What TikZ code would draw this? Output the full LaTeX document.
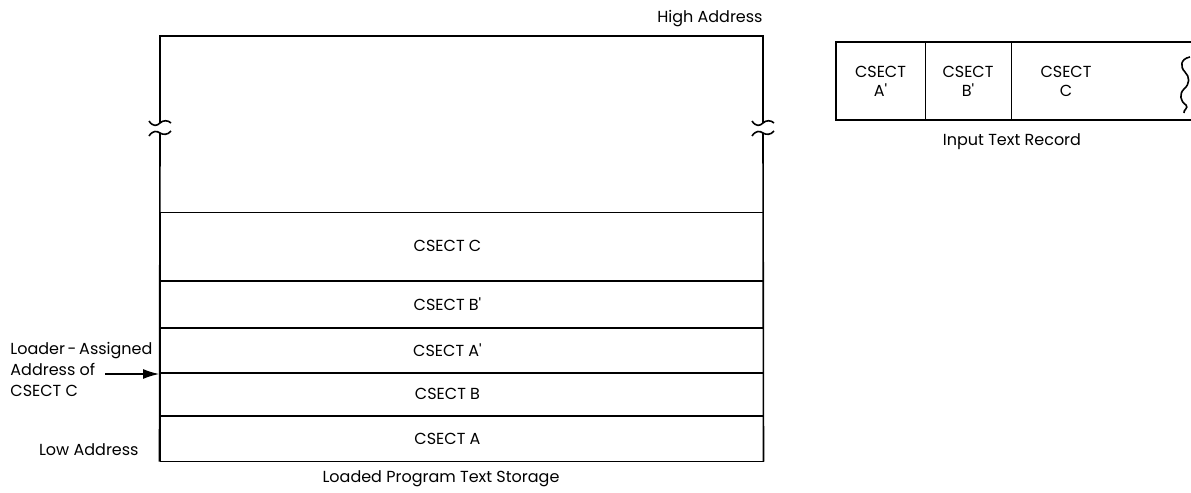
\documentclass[tikz,border=0pt]{standalone}
\usepackage{fontspec}
\setmainfont{Poppins}
\usetikzlibrary{arrows.meta, positioning}
\tikzset{
  row/.style={rectangle, draw=black, line width=0.5pt, inner sep=0pt,
              minimum width=301.5pt},
  rowtext/.style={inner sep=0pt, font=\fontsize{8}{9}\selectfont},
  field/.style={rectangle, inner sep=0pt, align=center,
                font=\fontsize{8}{9.5}\selectfont},
  lbl/.style={inner sep=0pt, align=left, font=\fontsize{8}{10.5}\selectfont},
  frame/.style={line width=0.8pt},
  breakmark/.style={line width=0.8pt},
  arrow/.style={-{Latex[length=8pt, width=5pt]}, line width=0.6pt},
}
\newcommand{\pr}{\textquotesingle}

\begin{document}
\begin{tikzpicture}[x=0.5pt, y=-0.5pt]
  \useasboundingbox (0,0) rectangle (1191,493);

  % Loaded program text storage
  \node[row, minimum height=34pt] (rowC) at (461.5,246) {};
  \node[row, minimum height=23pt, below=0pt of rowC] (rowBp) {};
  \node[row, minimum height=22pt, below=0pt of rowBp] (rowAp) {};
  \node[row, minimum height=21pt, below=0pt of rowAp] (rowB) {};
  \node[row, minimum height=22.5pt, below=0pt of rowB] (rowA) {};
  \node[rowtext, xshift=-7pt] at (rowC) {CSECT C};
  \node[rowtext, xshift=-7pt] at (rowBp) {CSECT B\pr};
  \node[rowtext, xshift=-7pt] at (rowAp) {CSECT A\pr};
  \node[rowtext, xshift=-7pt] at (rowB) {CSECT B};
  \node[rowtext, xshift=-7pt] at (rowA) {CSECT A};

  \coordinate (topL) at (160,36);
  \coordinate (topR) at (763,36);
  \draw[frame] (rowA.south west) -- (rowA.south east);
  \draw[frame] (topL |- 0,123) -- (topL) -- (topR) -- (topR |- 0,123);
  \draw[frame] (topL |- 0,133) -- (rowA.south west);
  \draw[frame] (topR |- 0,133) -- (rowA.south east);

  % break marks
  \foreach \bx in {160,763} {
    \draw[breakmark] (\bx-11,121) .. controls (\bx-7,127) and (\bx-3,126) .. (\bx,123)
      .. controls (\bx+3,120) and (\bx+8,120) .. (\bx+11,123);
    \draw[breakmark] (\bx-11,136) .. controls (\bx-7,130) and (\bx-3,131) .. (\bx,133)
      .. controls (\bx+3,135) and (\bx+8,135) .. (\bx+11,131);
  }

  \node[lbl, anchor=base east] (high) at (763,22) {High Address};
  \node[lbl, anchor=base east] (low) at (139,455) {Low Address};
  \node[lbl, anchor=north] (storage) at (441,470) {Loaded Program Text Storage};

  % loader-assigned address
  \node[lbl, anchor=north west] (loader) at (10,342) {Loader\,-\,Assigned\\Address of\\CSECT C};
  \coordinate (assign) at (159,374);
  \draw[arrow] (loader.west |- 0,374) ++(95,0) -- (assign);

  % input text record
  \coordinate (recTL) at (836,42);
  \coordinate (recBL) at (836,120);
  \draw[frame] (1191,42) -- (recTL) -- (recBL) -- (1191,120);
  \draw[line width=0.5pt] (925,42) -- (925,120);
  \draw[line width=0.5pt] (1011,42) -- (1011,120);
  \node[field] (fldA) at (880.5,81) {CSECT\\A\pr};
  \node[field] (fldB) at (968,81) {CSECT\\B\pr};
  \node[field] (fldC) at (1066,81) {CSECT\\C};
  \draw[breakmark] (1190,57) .. controls (1180,59) and (1180,67) .. (1185,72)
    .. controls (1190,77) and (1190,84) .. (1184,89)
    .. controls (1179,94) and (1180,101) .. (1186,105)
    .. controls (1189,108) and (1183,110) .. (1184,113);
  \node[lbl, anchor=north] (record) at (1012,133) {Input Text Record};
\end{tikzpicture}
\end{document}
